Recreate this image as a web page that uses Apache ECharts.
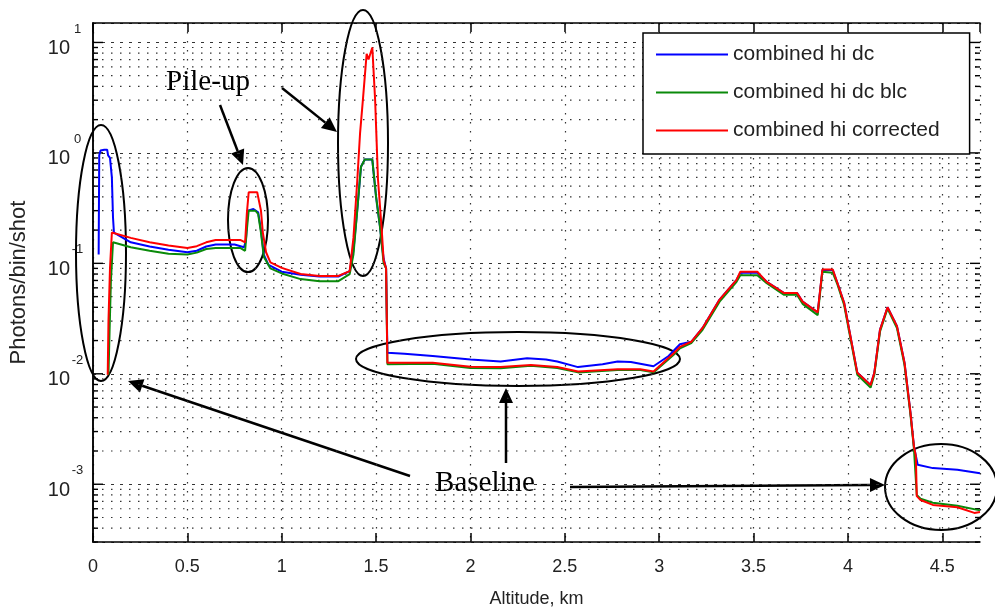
<!DOCTYPE html>
<html>
<head>
<meta charset="utf-8">
<script src="https://cdn.jsdelivr.net/npm/echarts@6/dist/echarts.min.js"></script>
<style>html,body{margin:0;padding:0;background:#fff}#main{width:995px;height:609px}</style>
</head>
<body>
<div id="main"></div>
<script>
// [altitude km, photons/bin/shot]
var combinedHiDc = [[0.03,0.12],[0.033,0.95],[0.04,1.05],[0.06,1.07],[0.075,1.07],[0.08,0.95],[0.09,0.9],[0.1,0.6],[0.106,0.26],[0.111,0.19],[0.2,0.155],[0.3,0.142],[0.4,0.133],[0.5,0.126],[0.55,0.13],[0.6,0.142],[0.65,0.148],[0.75,0.148],[0.8,0.14],[0.81,0.16],[0.82,0.3],[0.85,0.31],[0.875,0.29],[0.89,0.2],[0.905,0.12],[0.93,0.097],[1.0,0.084],[1.1,0.079],[1.2,0.076],[1.3,0.076],[1.36,0.085],[1.38,0.13],[1.4,0.3],[1.42,0.75],[1.44,0.87],[1.48,0.87],[1.5,0.4],[1.52,0.22],[1.54,0.11],[1.553,0.09],[1.56,0.0155],[1.65,0.0152],[1.8,0.0145],[2.0,0.0135],[2.16,0.0129],[2.3,0.0138],[2.4,0.0135],[2.46,0.0129],[2.57,0.0115],[2.7,0.0122],[2.78,0.0129],[2.85,0.0128],[2.97,0.0117],[3.05,0.0145],[3.11,0.0185],[3.17,0.0195],[3.23,0.026],[3.32,0.047],[3.41,0.071],[3.43,0.082],[3.52,0.082],[3.57,0.068],[3.66,0.054],[3.73,0.054],[3.76,0.045],[3.84,0.036],[3.865,0.087],[3.92,0.087],[3.945,0.066],[3.98,0.044],[4.05,0.0102],[4.12,0.0079],[4.14,0.0102],[4.17,0.025],[4.21,0.04],[4.26,0.027],[4.3,0.0126],[4.33,0.0047],[4.35,0.0022],[4.37,0.0015],[4.45,0.0014],[4.58,0.00135],[4.7,0.00126]];
var combinedHiDcBlc = [[0.082,0.0098],[0.088,0.025],[0.095,0.07],[0.106,0.155],[0.2,0.14],[0.3,0.13],[0.4,0.122],[0.5,0.12],[0.55,0.125],[0.6,0.135],[0.65,0.138],[0.78,0.138],[0.806,0.13],[0.815,0.2],[0.825,0.3],[0.86,0.3],[0.875,0.28],[0.89,0.19],[0.905,0.115],[0.94,0.09],[1.0,0.081],[1.1,0.072],[1.2,0.069],[1.3,0.069],[1.36,0.08],[1.38,0.12],[1.4,0.3],[1.42,0.75],[1.44,0.87],[1.48,0.87],[1.5,0.4],[1.52,0.22],[1.54,0.1],[1.553,0.09],[1.56,0.0122],[1.8,0.0123],[2.0,0.0113],[2.16,0.0112],[2.32,0.0118],[2.46,0.0113],[2.57,0.0103],[2.78,0.0108],[2.9,0.0108],[2.97,0.0103],[3.08,0.015],[3.11,0.017],[3.17,0.019],[3.23,0.025],[3.32,0.045],[3.41,0.068],[3.43,0.078],[3.52,0.078],[3.57,0.066],[3.66,0.052],[3.73,0.052],[3.76,0.043],[3.84,0.034],[3.865,0.084],[3.92,0.082],[3.945,0.064],[3.98,0.042],[4.05,0.0098],[4.12,0.0075],[4.14,0.0098],[4.17,0.024],[4.21,0.039],[4.26,0.026],[4.3,0.012],[4.33,0.0045],[4.35,0.0021],[4.365,0.0008],[4.385,0.00074],[4.45,0.00068],[4.58,0.00064],[4.7,0.00058]];
var combinedHiCorrected = [[0.078,0.0098],[0.082,0.03],[0.09,0.09],[0.1,0.19],[0.2,0.17],[0.3,0.155],[0.4,0.145],[0.5,0.138],[0.55,0.143],[0.6,0.155],[0.65,0.163],[0.78,0.163],[0.806,0.155],[0.815,0.28],[0.825,0.44],[0.87,0.44],[0.89,0.3],[0.9,0.19],[0.917,0.126],[0.94,0.102],[1.0,0.091],[1.1,0.08],[1.2,0.077],[1.3,0.077],[1.36,0.085],[1.38,0.17],[1.4,0.55],[1.415,1.5],[1.43,3.0],[1.45,7.9],[1.46,7.0],[1.48,9.0],[1.495,3.0],[1.51,0.58],[1.53,0.2],[1.54,0.107],[1.553,0.09],[1.56,0.0126],[1.8,0.0126],[2.0,0.0116],[2.16,0.0115],[2.32,0.012],[2.46,0.0115],[2.57,0.0105],[2.78,0.011],[2.9,0.011],[2.97,0.0105],[3.08,0.0155],[3.11,0.0175],[3.17,0.0195],[3.23,0.026],[3.32,0.047],[3.41,0.071],[3.43,0.084],[3.52,0.084],[3.57,0.068],[3.66,0.054],[3.73,0.054],[3.76,0.045],[3.84,0.036],[3.865,0.088],[3.92,0.088],[3.945,0.066],[3.98,0.044],[4.05,0.0102],[4.12,0.0079],[4.14,0.0102],[4.17,0.025],[4.21,0.04],[4.26,0.027],[4.3,0.0126],[4.33,0.0047],[4.35,0.0022],[4.36,0.0018],[4.365,0.00078],[4.385,0.00072],[4.45,0.00065],[4.58,0.00062],[4.67,0.00055],[4.7,0.00056]];

var seriesNames = ['combined hi dc', 'combined hi dc blc', 'combined hi corrected'];
var seriesColors = ['#0000ff', '#0a8a0a', '#ff0000'];
var decadeTicks = [1e-3, 1e-2, 1e-1, 1, 10];

// y ticks: [0, value, isMajor]; minor ones are 2..9 x 10^n
var yTicks = decadeTicks.map(function (d) { return [0, d, 1]; });
for (var e = -4; e <= 1; e++) {
  for (var m = 2; m <= 9; m++) {
    var v = m * Math.pow(10, e);
    if (v > 3e-4 && v < 15) yTicks.push([0, v, 0]);
  }
}

var myChart = echarts.init(document.getElementById('main'));
var font = 'Liberation Sans, Arial, sans-serif';
var dotStyle = {color: '#333', width: 1.2, type: [1.5, 7.5]};

function arrow(x1, y1, x2, y2) {
  var a = Math.atan2(y2 - y1, x2 - x1), L = 15, W = 7;
  var bx = x2 - L * Math.cos(a), by = y2 - L * Math.sin(a);
  var nx = -Math.sin(a) * W, ny = Math.cos(a) * W;
  return [
    {type: 'line', shape: {x1: x1, y1: y1, x2: bx, y2: by}, style: {stroke: '#000', lineWidth: 2.5}},
    {type: 'polygon', shape: {points: [[x2, y2], [bx + nx, by + ny], [bx - nx, by - ny]]}, style: {fill: '#000'}}
  ];
}
function ellipse(cx, cy, rx, ry) {
  return {type: 'ellipse', shape: {cx: cx, cy: cy, rx: rx, ry: ry}, style: {fill: null, stroke: '#000', lineWidth: 2}};
}
function note(txt, x, y) {
  return {type: 'text', style: {text: txt, x: x, y: y, textAlign: 'center', textVerticalAlign: 'middle',
    font: '29px "Liberation Serif", "Times New Roman", serif', fill: '#000'}};
}

var graphics = [
  ellipse(101, 253, 25, 128),
  ellipse(248, 220, 20, 52),
  ellipse(363, 143, 25, 133),
  ellipse(518, 359, 162, 27),
  ellipse(941, 487, 56, 43),
  note('Pile-up', 208, 82),
  note('Baseline', 485, 483)
].concat(arrow(220, 105, 243, 165), arrow(282, 88, 337, 132),
  arrow(410, 476, 128, 381), arrow(506, 463, 506, 388), arrow(570, 487, 885, 485));

var option = {
  animation: false,
  backgroundColor: '#fff',
  grid: {left: 93, top: 23, right: 15, bottom: 67, outerBoundsMode: 'none', containLabel: false},
  legend: {
    data: seriesNames,
    orient: 'vertical',
    left: 643, top: 33,
    padding: [11, 30, 13, 13],
    icon: 'rect',
    itemWidth: 72, itemHeight: 2, itemGap: 17,
    backgroundColor: '#fff', borderColor: '#000', borderWidth: 1.5, borderRadius: 0,
    textStyle: {fontFamily: font, fontSize: 21, color: '#222', lineHeight: 21}
  },
  xAxis: [{
    type: 'value', min: 0, max: 4.7, interval: 0.5,
    name: 'Altitude, km', nameLocation: 'middle', nameGap: 48,
    nameTextStyle: {fontFamily: font, fontSize: 18, color: '#222'},
    axisLine: {lineStyle: {color: '#000', width: 1.5}},
    axisTick: {inside: true, length: 9, lineStyle: {color: '#000', width: 1.5}},
    axisLabel: {fontFamily: font, fontSize: 18, color: '#222', margin: 16, showMaxLabel: false},
    splitLine: {show: true, lineStyle: dotStyle}
  }, {
    type: 'value', min: 0, max: 4.7, interval: 0.5, position: 'top',
    axisLine: {lineStyle: {color: '#000', width: 1.5}},
    axisTick: {inside: true, length: 9, lineStyle: {color: '#000', width: 1.5}},
    axisLabel: {show: false}, splitLine: {show: false}
  }],
  yAxis: [{
    type: 'log', logBase: 10, min: 3e-4, max: 15,
    name: 'Photons/bin/shot', nameLocation: 'middle', nameGap: 63,
    nameTextStyle: {fontFamily: font, fontSize: 22, color: '#222'},
    axisLine: {lineStyle: {color: '#000', width: 1.5}},
    axisTick: {show: false},
    axisLabel: {
      showMinLabel: false, showMaxLabel: false, margin: 8,
      formatter: function (v) {
        var ex = Math.round(Math.log(v) / Math.LN10);
        return '{b|10}{e|' + ex + '}';
      },
      rich: {
        b: {fontFamily: font, fontSize: 20, color: '#222', verticalAlign: 'bottom', lineHeight: 36},
        e: {fontFamily: font, fontSize: 13, color: '#222', verticalAlign: 'top', width: 15, align: 'left'}
      },
      padding: [0, 0, 4, 0]
    },
    splitLine: {show: true, lineStyle: {color: '#333', width: 1.2, type: [3, 6]}}
  }, {
    type: 'log', logBase: 10, min: 3e-4, max: 15, position: 'right',
    axisLine: {lineStyle: {color: '#000', width: 1.5}},
    axisTick: {show: false},
    axisLabel: {show: false}, splitLine: {show: false}
  }],
  series: [{
    name: 'yticks', type: 'custom', silent: true, z: 1,
    xAxisIndex: 0, yAxisIndex: 0,
    data: yTicks,
    renderItem: function (params, api) {
      var p = api.coord([0, api.value(1)]);
      var cs = params.coordSys;
      var major = api.value(2) === 1;
      var len = major ? 10 : 5;
      var kids = [
        {type: 'line', shape: {x1: cs.x, y1: p[1], x2: cs.x + len, y2: p[1]},
          style: {stroke: '#000', lineWidth: 1.4}},
        {type: 'line', shape: {x1: cs.x + cs.width - len, y1: p[1], x2: cs.x + cs.width, y2: p[1]},
          style: {stroke: '#000', lineWidth: 1.4}}
      ];
      if (!major) {
        kids.unshift({type: 'line', shape: {x1: cs.x, y1: p[1], x2: cs.x + cs.width, y2: p[1]},
          style: {stroke: '#333', lineWidth: 1.2, lineDash: [1.5, 7.5]}});
      }
      return {type: 'group', children: kids};
    }
  }, {
    name: seriesNames[0], type: 'line', data: combinedHiDc, symbol: 'none', z: 3,
    lineStyle: {color: seriesColors[0], width: 2}, itemStyle: {color: seriesColors[0]}
  }, {
    name: seriesNames[1], type: 'line', data: combinedHiDcBlc, symbol: 'none', z: 4,
    lineStyle: {color: seriesColors[1], width: 2}, itemStyle: {color: seriesColors[1]}
  }, {
    name: seriesNames[2], type: 'line', data: combinedHiCorrected, symbol: 'none', z: 5,
    lineStyle: {color: seriesColors[2], width: 2}, itemStyle: {color: seriesColors[2]}
  }],
  graphic: graphics
};
myChart.setOption(option);
</script>
</body>
</html>
